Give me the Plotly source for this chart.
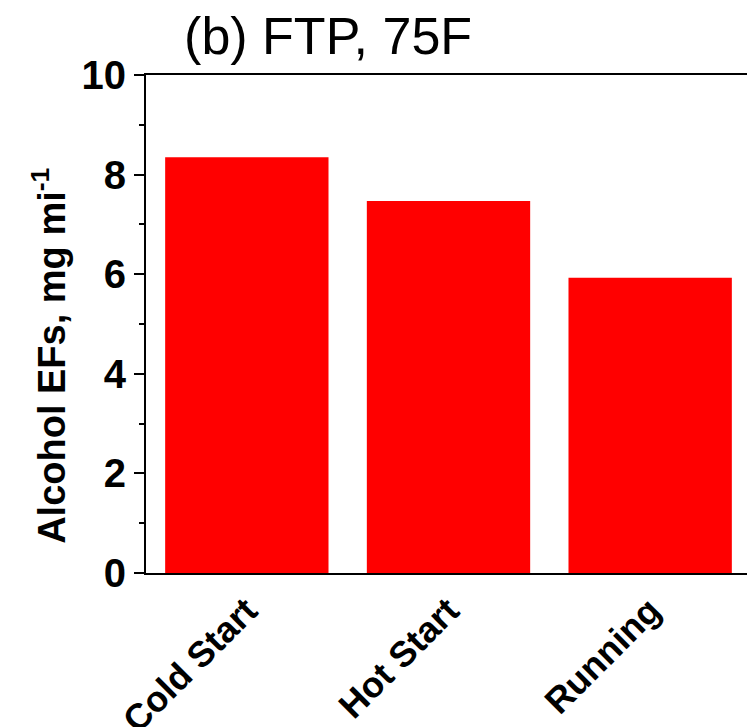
import plotly.graph_objects as go

categories = ["Cold Start", "Hot Start", "Running"]
alcohol_ef = [8.35, 7.47, 5.93]
y_tick_vals = [0, 2, 4, 6, 8, 10]
y_tick_text = ["0", "2", "4", "6", "8", "10"]

fig = go.Figure()
fig.add_trace(go.Bar(
    x=categories, y=alcohol_ef,
    marker=dict(color="#ff0000", line=dict(width=0)),
    width=0.81,
))

fig.update_layout(
    width=755, height=727,
    margin=dict(l=138, r=12, t=67, b=162, autoexpand=False),
    paper_bgcolor="white", plot_bgcolor="white",
    showlegend=False,
    font=dict(family="Liberation Sans", color="black"),
    title=dict(text="(b) FTP, 75F", x=0.424, xref="container", xanchor="center",
               y=0.962, yref="container", yanchor="middle",
               font=dict(family="Liberation Sans", size=52, color="black")),
)

fig.update_xaxes(
    range=[-0.5, 2.5], automargin=False,
    showline=True, linecolor="black", linewidth=2, mirror=True,
    ticks="", tickangle=-45,
    tickfont=dict(family="Liberation Sans", size=36, color="black", weight="bold"),
    showgrid=False, zeroline=False,
)
fig.update_yaxes(
    range=[0, 10], automargin=False,
    tickvals=y_tick_vals, ticktext=y_tick_text,
    showline=True, linecolor="black", linewidth=2, mirror="allticks",
    ticks="outside", ticklen=10, tickwidth=2, tickcolor="black",
    minor=dict(dtick=1, ticks="outside", ticklen=5, tickwidth=2, tickcolor="black"),
    tickfont=dict(family="Liberation Sans", size=40, color="black", weight="bold"),
    showgrid=False, zeroline=False,
)

fig.add_annotation(
    text="<b>Alcohol EFs, mg mi<sup>-1</sup></b>",
    xref="paper", yref="paper", x=0, y=0.436, xshift=-97,
    xanchor="center", yanchor="middle", textangle=-90, showarrow=False,
    font=dict(family="Liberation Sans", size=38, color="black"),
)

fig.write_html("out.html")
